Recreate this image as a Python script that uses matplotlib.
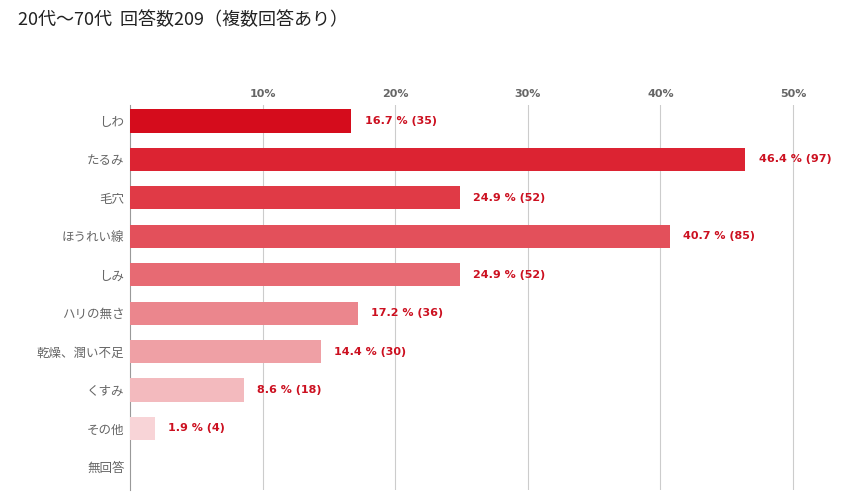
import matplotlib.pyplot as plt

plt.rcParams["font.family"] = "Noto Sans CJK JP"

categories = ["しわ", "たるみ", "毛穴", "ほうれい線", "しみ", "ハリの無さ",
              "乾燥、潤い不足", "くすみ", "その他", "無回答"]
percents = [16.7, 46.4, 24.9, 40.7, 24.9, 17.2, 14.4, 8.6, 1.9, 0.0]
counts = [35, 97, 52, 85, 52, 36, 30, 18, 4, 0]
bar_colors = ["#d50c1c", "#dc2332", "#e03a46", "#e3505b", "#e76a73",
              "#eb868d", "#efa0a5", "#f3babe", "#f8d4d7", "#ffffff"]
xticks = [10, 20, 30, 40, 50]

fig = plt.figure(figsize=(8.46, 5.04), dpi=100)
ax = fig.add_axes([0.1537, 0.028, 0.815, 0.764])

n = len(categories)
ys = list(range(n))
ax.barh(ys, percents, height=0.6, color=bar_colors, zorder=3)
for y, p, c in zip(ys, percents, counts):
    if p > 0:
        ax.text(p + 1.0, y, f"{p} % ({c})", va="center", ha="left",
                fontsize=8, fontweight="bold", color="#cc1020",
                family="DejaVu Sans")

ax.set_ylim(n - 1 + 0.6, -0.42)
ax.set_xlim(0, 52)
ax.set_yticks(ys)
ax.set_yticklabels(categories, fontsize=9, color="#666666")
ax.set_xticks(xticks)
ax.set_xticklabels([f"{t}%" for t in xticks], fontsize=8, fontweight="bold",
                   color="#666666", family="DejaVu Sans")
ax.xaxis.tick_top()
ax.tick_params(length=0, pad=4)
ax.grid(axis="x", color="#cccccc", linewidth=0.8, zorder=0)
for s in ["top", "right", "bottom"]:
    ax.spines[s].set_visible(False)
ax.spines["left"].set_color("#999999")

fig.text(0.021, 0.96, "20代～70代  回答数209（複数回答あり）", fontsize=13,
         ha="left", va="center", color="#222222")

fig.savefig("out.png", dpi=100)
